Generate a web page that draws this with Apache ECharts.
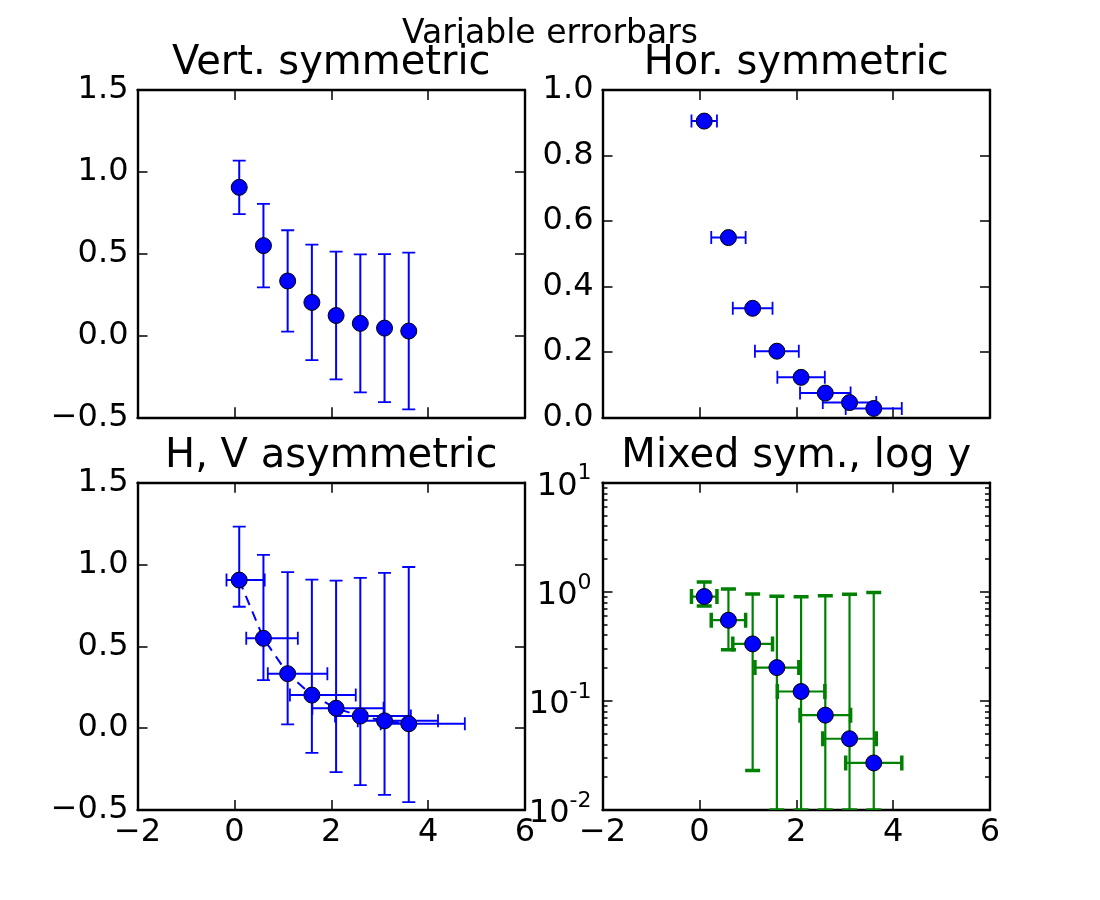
<!DOCTYPE html>
<html>
<head>
<meta charset="utf-8">
<script src="https://cdn.jsdelivr.net/npm/echarts@6/dist/echarts.min.js"></script>
<style>html,body{margin:0;padding:0;background:#fff}#c{width:1100px;height:900px}</style>
</head>
<body>
<div id="c"></div>
<script>
// ---- data ----
const xVals = [0.1, 0.6, 1.1, 1.6, 2.1, 2.6, 3.1, 3.6];
const yVals = [0.905, 0.549, 0.333, 0.202, 0.122, 0.074, 0.045, 0.027];
const yErr = [0.163, 0.255, 0.310, 0.353, 0.390, 0.422, 0.452, 0.479];
const xErr = [0.263, 0.355, 0.410, 0.453, 0.490, 0.522, 0.552, 0.579];
// asymmetric panel: upper y error and right x error
const yErrUpperAsym = [0.326, 0.510, 0.620, 0.706, 0.780, 0.844, 0.904, 0.958];
const xErrRightAsym = [0.526, 0.710, 0.820, 0.906, 0.980, 1.044, 1.104, 1.158];
// log panel: lower and upper ends of the vertical bars
const yLowerLog = [0.742, 0.294, 0.023, 0.01, 0.01, 0.01, 0.01, 0.01];
const yUpperLog = [1.231, 1.059, 0.953, 0.908, 0.902, 0.918, 0.949, 0.985];
// tick settings
const xTicks = [-2, 0, 2, 4, 6];
const titles = ['Vert. symmetric', 'Hor. symmetric', 'H, V asymmetric', 'Mixed sym., log y'];
const supTitle = 'Variable errorbars';
const logMinorTicks = [0.02,0.03,0.04,0.05,0.06,0.07,0.08,0.09,0.2,0.3,0.4,0.5,0.6,0.7,0.8,0.9,2,3,4,5,6,7,8,9];

const FONT = 'DejaVu Sans';
const BLUE = '#0000ff', GREEN = '#008000';
const L1 = 137.5, L2 = 602.5, W = 387.5, T1 = 90, T2 = 482.7, H = 327.3;
const grids = [
  {left: L1, top: T1, width: W, height: H},
  {left: L2, top: T1, width: W, height: H},
  {left: L1, top: T2, width: W, height: H},
  {left: L2, top: T2, width: W, height: H}
].map(g => Object.assign({show: false, containLabel: false, outerBoundsMode: 'none'}, g));

const minus = s => String(s).replace('-', '\u2212');
const axLine = {show: true, onZero: false, lineStyle: {color: '#000', width: 2.4}};
const tick = (len) => ({show: true, inside: true, length: len, lineStyle: {color: '#000', width: 1.5}});
const lab = {color: '#000', fontSize: 32, fontFamily: FONT, showMinLabel: true, showMaxLabel: true};

const xAxes = [], yAxes = [];
for (let g = 0; g < 4; g++) {
  const bottomRow = g >= 2;
  xAxes.push({type: 'value', gridIndex: g, position: 'bottom', min: xTicks[0], max: xTicks[xTicks.length-1], interval: 2,
    axisLine: axLine, axisTick: tick(10), splitLine: {show: false},
    axisLabel: Object.assign({show: bottomRow, margin: 7, formatter: v => minus(v)}, lab)});
  xAxes.push({type: 'value', gridIndex: g, position: 'top', min: xTicks[0], max: xTicks[xTicks.length-1], interval: 2,
    axisLine: axLine, axisTick: tick(10), splitLine: {show: false}, axisLabel: {show: false}});
}
function linY(g, min, max, interval, dec) {
  yAxes.push({type: 'value', gridIndex: g, position: 'left', min, max, interval,
    axisLine: axLine, axisTick: tick(10), splitLine: {show: false},
    axisLabel: Object.assign({margin: 9, formatter: v => minus(v.toFixed(dec))}, lab)});
  yAxes.push({type: 'value', gridIndex: g, position: 'right', min, max, interval,
    axisLine: axLine, axisTick: tick(10), splitLine: {show: false}, axisLabel: {show: false}});
}
linY(0, -0.5, 1.5, 0.5, 1);
linY(1, 0, 1, 0.2, 1);
linY(2, -0.5, 1.5, 0.5, 1);
// log axes for panel 4
yAxes.push({type: 'log', logBase: 10, gridIndex: 3, position: 'left', min: 0.01, max: 10,
  axisLine: axLine, axisTick: tick(10), splitLine: {show: false},
  axisLabel: Object.assign({margin: 11, formatter: v => '{b|10}{s|' + Math.round(Math.log10(v)) + '}',
    rich: {b: {fontSize: 32, fontFamily: FONT, color: '#000', lineHeight: 40, verticalAlign: 'bottom'},
           s: {fontSize: 22, fontFamily: FONT, color: '#000', lineHeight: 22, verticalAlign: 'top'}}}, lab)});
yAxes.push({type: 'log', logBase: 10, gridIndex: 3, position: 'right', min: 0.01, max: 10,
  axisLine: axLine, axisTick: tick(10), splitLine: {show: false}, axisLabel: {show: false}});
yAxes.push({type: 'log', logBase: 10, gridIndex: 3, position: 'left', min: 0.01, max: 10,
  axisLine: {show: false, onZero: false}, axisTick: Object.assign(tick(5), {customValues: logMinorTicks}), splitLine: {show: false}, axisLabel: {show: false}});
yAxes.push({type: 'log', logBase: 10, gridIndex: 3, position: 'right', min: 0.01, max: 10,
  axisLine: {show: false, onZero: false}, axisTick: Object.assign(tick(5), {customValues: logMinorTicks}), splitLine: {show: false}, axisLabel: {show: false}});

function errSeries(g, rows, cfg) {
  return {
    type: 'custom', xAxisIndex: 2*g, yAxisIndex: 2*g, z: 3, clip: true, silent: true,
    data: rows,
    renderItem: function (params, api) {
      const x = api.value(0), y = api.value(1);
      const ch = [];
      const ls = {stroke: cfg.color, lineWidth: cfg.lw};
      const cs = {stroke: cfg.color, lineWidth: cfg.capLw};
      const hc = cfg.cap / 2;
      if (cfg.vert) {
        const p1 = api.coord([x, api.value(4)]), p2 = api.coord([x, api.value(5)]);
        ch.push({type: 'line', shape: {x1: p1[0], y1: p1[1], x2: p2[0], y2: p2[1]}, style: ls});
        ch.push({type: 'line', shape: {x1: p1[0]-hc, y1: p1[1], x2: p1[0]+hc, y2: p1[1]}, style: cs});
        ch.push({type: 'line', shape: {x1: p2[0]-hc, y1: p2[1], x2: p2[0]+hc, y2: p2[1]}, style: cs});
      }
      if (cfg.hor) {
        const q1 = api.coord([api.value(2), y]), q2 = api.coord([api.value(3), y]);
        ch.push({type: 'line', shape: {x1: q1[0], y1: q1[1], x2: q2[0], y2: q2[1]}, style: ls});
        ch.push({type: 'line', shape: {x1: q1[0], y1: q1[1]-hc, x2: q1[0], y2: q1[1]+hc}, style: cs});
        ch.push({type: 'line', shape: {x1: q2[0], y1: q2[1]-hc, x2: q2[0], y2: q2[1]+hc}, style: cs});
      }
      const c = params.coordSys;
      return {type: 'group', children: ch, clipPath: {type: 'rect', shape: {x: c.x, y: c.y, width: c.width, height: c.height}}};
    }
  };
}
function markers(g) {
  return {type: 'scatter', xAxisIndex: 2*g, yAxisIndex: 2*g, z: 5, clip: true, silent: true,
    symbol: 'circle', symbolSize: 16,
    itemStyle: {color: BLUE, borderColor: '#000', borderWidth: 1, opacity: 1},
    data: xVals.map((x, i) => [x, yVals[i]])};
}

const rowsSym = xVals.map((x, i) => [x, yVals[i], x - xErr[i], x + xErr[i], yVals[i] - yErr[i], yVals[i] + yErr[i]]);
const rowsAsym = xVals.map((x, i) => [x, yVals[i], x - xErr[i], x + xErrRightAsym[i], yVals[i] - yErr[i], yVals[i] + yErrUpperAsym[i]]);
const rowsLog = xVals.map((x, i) => [x, yVals[i], x - xErr[i], x + xErr[i], yLowerLog[i], yUpperLog[i]]);

const blueCfg = {color: BLUE, lw: 2, capLw: 1.8, cap: 13};
const series = [
  errSeries(0, rowsSym, Object.assign({vert: true, hor: false}, blueCfg)),
  markers(0),
  errSeries(1, rowsSym, Object.assign({vert: false, hor: true}, blueCfg)),
  markers(1),
  {type: 'line', xAxisIndex: 4, yAxisIndex: 4, z: 2, showSymbol: false, silent: true, clip: true,
   lineStyle: {color: BLUE, width: 2, type: [10, 7]}, data: xVals.map((x, i) => [x, yVals[i]])},
  errSeries(2, rowsAsym, Object.assign({vert: true, hor: true}, blueCfg)),
  markers(2),
  errSeries(3, rowsLog, {vert: true, hor: true, color: GREEN, lw: 2.2, capLw: 3.5, cap: 15}),
  markers(3)
];

const graphics = [{type: 'text', x: 550, y: 34, style: {text: supTitle, fontSize: 33, fontFamily: FONT, fill: '#000', align: 'center', verticalAlign: 'middle'}}];
const centers = [[L1 + W/2, 64], [L2 + W/2, 64], [L1 + W/2, 457], [L2 + W/2, 457]];
titles.forEach((t, i) => graphics.push({type: 'text', x: centers[i][0], y: centers[i][1],
  style: {text: t, fontSize: 40, fontFamily: FONT, fill: '#000', align: 'center', verticalAlign: 'middle'}}));

const chart = echarts.init(document.getElementById('c'), null, {renderer: 'canvas'});
chart.setOption({
  animation: false,
  backgroundColor: '#fff',
  grid: grids,
  xAxis: xAxes,
  yAxis: yAxes,
  series: series,
  graphic: graphics
});
</script>
</body>
</html>
